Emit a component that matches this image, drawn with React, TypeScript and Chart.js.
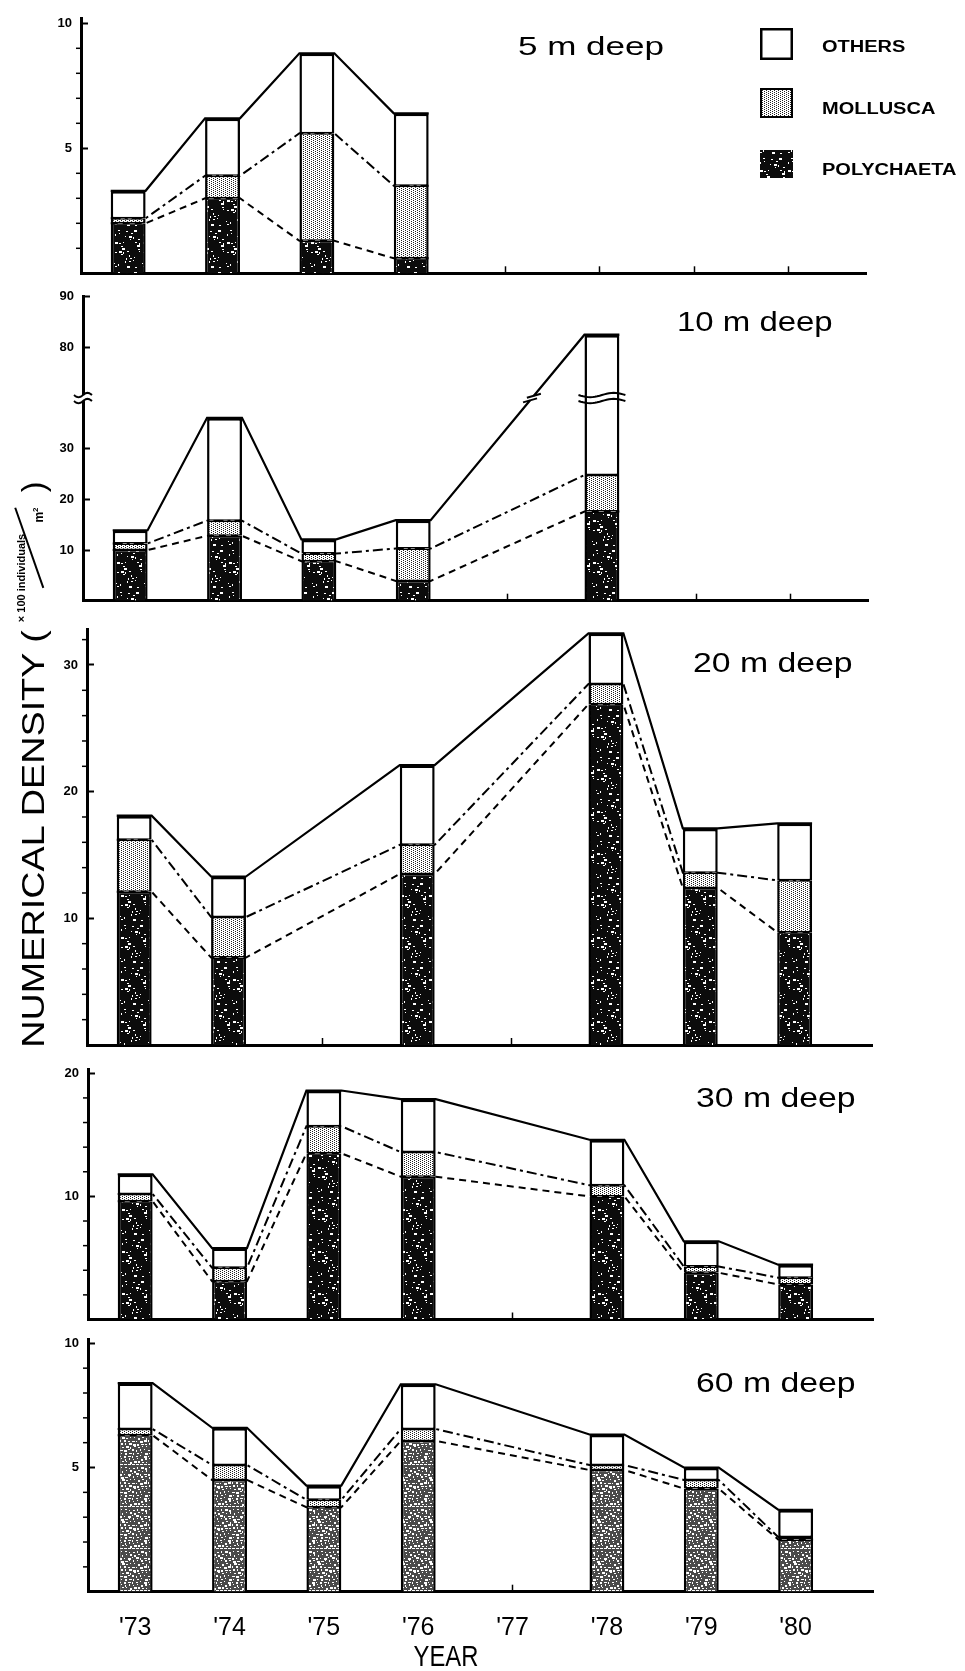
import React, { useEffect, useRef } from 'react';
import { Chart, registerables, LinearScale } from 'chart.js';

// ---------------- data ----------------
const YEAR_LABELS = ["'73", "'74", "'75", "'76", "'77", "'78", "'79", "'80"];
const LEGEND_LABELS = ['OTHERS', 'MOLLUSCA', 'POLYCHAETA'];
const PANEL_TITLES = ['5 m deep', '10 m deep', '20 m deep', '30 m deep', '60 m deep'];

const YEARS_5M = ["'73", "'74", "'75", "'76"];
const POLY_5M = [2.0, 3.0, 1.3, 0.6];
const MOLL_5M = [0.2, 0.9, 4.3, 2.9];
const OTH_5M = [1.1, 2.3, 3.2, 2.9];
const TICKS_5M = [5, 10];

const YEARS_10M = ["'73", "'74", "'75", "'76", "'78"];
const POLY_10M = [10.0, 12.8, 7.8, 3.9, 17.6];
const MOLL_10M = [1.3, 3.0, 1.5, 6.4, 7.2];
const OTH_10M = [2.6, 20.3, 2.8, 5.6, 57.7];
const TICKS_10M = [10, 20, 30, 80, 90];
const BREAK_10M = [40, 70];

const YEARS_20M = ["'73", "'74", "'76", "'78", "'79", "'80"];
const POLY_20M = [12.1, 6.9, 13.5, 26.9, 12.4, 8.9];
const MOLL_20M = [4.1, 3.2, 2.3, 1.6, 1.2, 4.1];
const OTH_20M = [1.9, 3.2, 6.3, 4.0, 3.5, 4.5];
const TICKS_20M = [10, 20, 30];

const YEARS_30M = ["'73", "'74", "'75", "'76", "'78", "'79", "'80"];
const POLY_30M = [9.6, 3.1, 13.5, 11.6, 10.0, 3.8, 2.85];
const MOLL_30M = [0.6, 1.1, 2.2, 2.0, 0.9, 0.5, 0.55];
const OTH_30M = [1.6, 1.6, 2.9, 4.3, 3.7, 2.05, 1.05];
const TICKS_30M = [10, 20];

const YEARS_60M = ["'73", "'74", "'75", "'76", "'78", "'79", "'80"];
const POLY_60M = [6.3, 4.5, 3.4, 6.07, 4.9, 4.15, 2.1];
const MOLL_60M = [0.25, 0.6, 0.3, 0.48, 0.2, 0.35, 0.1];
const OTH_60M = [1.85, 1.5, 0.57, 1.8, 1.23, 0.5, 1.1];
const TICKS_60M = [5, 10];

// ---------------- layout / style ----------------
const PAGE_W = 965;
const PAGE_H = 1671;
const Y_AXIS_W = 88;
const PAD_RIGHT = 92;
const X_MIN = -0.5;
const X_MAX = 7.82;
const BAR_FRAC = 0.37;
const HALF_BAR = BAR_FRAC / 2;
const SANS = "'Liberation Sans', Arial, sans-serif";

const compress = (v: number) => {
  const [lo, hi] = BREAK_10M;
  if (v <= lo) return v;
  if (v >= hi) return v - (hi - lo);
  return lo;
};
const expand = (c: number) => {
  const [lo, hi] = BREAK_10M;
  return c <= lo ? c : c + (hi - lo);
};

class BrokenLinearScale extends LinearScale {
  static id = 'brokenLinear';
  configure() {
    super.configure();
    const self: any = this;
    self._cStart = compress(self.min);
    self._cRange = compress(self.max) - self._cStart || 1;
  }
  getPixelForValue(value: any) {
    const self: any = this;
    if (value === null || value === undefined || isNaN(value)) return NaN;
    return this.getPixelForDecimal((compress(value) - self._cStart) / self._cRange);
  }
  getValueForPixel(pixel: number) {
    const self: any = this;
    return expand(self._cStart + this.getDecimalForPixel(pixel) * self._cRange);
  }
}

Chart.register(...registerables, BrokenLinearScale as any);

function speckleTile(holes: number, ink: string): HTMLCanvasElement {
  const c = document.createElement('canvas');
  c.width = 28;
  c.height = 42;
  const g = c.getContext('2d')!;
  g.fillStyle = ink;
  g.fillRect(0, 0, 28, 42);
  g.fillStyle = '#fff';
  for (let row = 0; row < 14; row++) {
    for (let col = 0; col < 7; col++) {
      const h = (row * 7 + col * 11 + row * col * 5) % 13;
      if (h < holes) {
        g.fillRect(col * 4 + (row % 3), row * 3 + (h % 2), 1 + (h % 3), 1 + ((h >> 1) % 2));
      }
    }
  }
  return c;
}

function stippleTile(): HTMLCanvasElement {
  const c = document.createElement('canvas');
  c.width = 4;
  c.height = 4;
  const g = c.getContext('2d')!;
  g.fillStyle = '#fff';
  g.fillRect(0, 0, 4, 4);
  g.fillStyle = '#222';
  g.fillRect(0, 0, 1, 1);
  g.fillRect(2, 1, 1, 1);
  g.fillRect(0, 2, 1, 1);
  g.fillRect(2, 3, 1, 1);
  return c;
}

type Panel = {
  years: string[];
  poly: number[];
  moll: number[];
  oth: number[];
  ticks: number[];
  yMax: number;
  minor: number;
  broken: boolean;
  top: number;
  bottom: number;
  dx: number;
  light: boolean;
  showX: boolean;
};

const PANELS: Panel[] = [
  { years: YEARS_5M, poly: POLY_5M, moll: MOLL_5M, oth: OTH_5M, ticks: TICKS_5M, yMax: 10.2, minor: 1, broken: false, top: 18.3, bottom: 273.3, dx: -7, light: false, showX: false },
  { years: YEARS_10M, poly: POLY_10M, moll: MOLL_10M, oth: OTH_10M, ticks: TICKS_10M, yMax: 90, minor: 0, broken: true, top: 296.7, bottom: 600.7, dx: -5, light: false, showX: false },
  { years: YEARS_20M, poly: POLY_20M, moll: MOLL_20M, oth: OTH_20M, ticks: TICKS_20M, yMax: 32.8, minor: 2, broken: false, top: 629.5, bottom: 1045, dx: -1, light: false, showX: false },
  { years: YEARS_30M, poly: POLY_30M, moll: MOLL_30M, oth: OTH_30M, ticks: TICKS_30M, yMax: 20.3, minor: 2, broken: false, top: 1069.6, bottom: 1319.5, dx: 0, light: false, showX: false },
  { years: YEARS_60M, poly: POLY_60M, moll: MOLL_60M, oth: OTH_60M, ticks: TICKS_60M, yMax: 10.15, minor: 1, broken: false, top: 1339.6, bottom: 1591.7, dx: 0, light: true, showX: true },
];

function geom(p: Panel) {
  const canvasTop = Math.floor(p.top) - 10;
  const padTop = p.top - canvasTop;
  const canvasBottom = p.showX ? PAGE_H : Math.ceil(p.bottom) + 8;
  const canvasH = canvasBottom - canvasTop;
  const xAxisH = canvasBottom - p.bottom;
  return { canvasTop, padTop, canvasH, xAxisH };
}

const TITLE_POS = [
  { left: 518, cy: 44.5, size: 25, sx: 1.4 },
  { left: 677, cy: 320, size: 27, sx: 1.22 },
  { left: 693, cy: 661, size: 27, sx: 1.25 },
  { left: 696, cy: 1096, size: 27, sx: 1.25 },
  { left: 696, cy: 1381, size: 27, sx: 1.25 },
];
const LEGEND_CY = [46, 107.5, 169];

function wave(ctx: CanvasRenderingContext2D, x0: number, x1: number, y: number) {
  ctx.beginPath();
  const steps = 20;
  for (let i = 0; i <= steps; i++) {
    const x = x0 + ((x1 - x0) * i) / steps;
    const yy = y + 2.2 * Math.sin((i / steps) * Math.PI * 2);
    if (i === 0) ctx.moveTo(x, yy);
    else ctx.lineTo(x, yy);
  }
  ctx.stroke();
}

const minorTickPlugin = {
  id: 'minorTicks',
  afterDraw(chart: any, _a: any, opts: any) {
    if (!opts || !opts.step) return;
    const s = chart.scales.y;
    const ctx = chart.ctx;
    const x = chart.chartArea.left;
    ctx.save();
    ctx.strokeStyle = '#000';
    ctx.lineWidth = 1.5;
    for (let k = 1; k * opts.step < s.max; k++) {
      const v = k * opts.step;
      if (opts.major.includes(v)) continue;
      const y = s.getPixelForValue(v);
      ctx.beginPath();
      ctx.moveTo(x - 5, y);
      ctx.lineTo(x - 1, y);
      ctx.stroke();
    }
    ctx.restore();
  },
};

const breakPlugin = {
  id: 'scaleBreak',
  afterDatasetsDraw(chart: any, _a: any, opts: any) {
    if (!opts || opts.at === undefined) return;
    const ys = chart.scales.y;
    const ctx = chart.ctx as CanvasRenderingContext2D;
    const yb = ys.getPixelForValue(opts.at);
    const left = chart.chartArea.left;
    ctx.save();
    ctx.fillStyle = '#fff';
    ctx.strokeStyle = '#000';
    ctx.lineWidth = 2;
    ctx.fillRect(left - 3, yb - 3, 6, 6);
    wave(ctx, left - 9, left + 9, yb - 3);
    wave(ctx, left - 9, left + 9, yb + 3);
    const meta = chart.getDatasetMeta(opts.barDataset);
    meta.data.forEach((el: any) => {
      const { x, y, base, width } = el.getProps(['x', 'y', 'base', 'width'], true);
      if (y < yb - 5 && base > yb + 5) {
        ctx.fillStyle = '#fff';
        ctx.fillRect(x - width / 2 + 2.5, yb - 3, width - 5, 6);
        wave(ctx, x - width / 2 - 6, x + width / 2 + 6, yb - 3);
        wave(ctx, x - width / 2 - 6, x + width / 2 + 6, yb + 3);
      }
    });
    const lm = chart.getDatasetMeta(opts.lineDataset);
    for (let i = 1; i < lm.data.length; i++) {
      const a = lm.data[i - 1];
      const b = lm.data[i];
      if ((a.y - yb) * (b.y - yb) < 0 && Math.abs(b.x - a.x) > 2) {
        const t = (yb - a.y) / (b.y - a.y);
        const cx = a.x + t * (b.x - a.x);
        const cy = yb;
        const L = Math.hypot(b.x - a.x, b.y - a.y);
        const ux = (b.x - a.x) / L;
        const uy = (b.y - a.y) / L;
        ctx.strokeStyle = '#fff';
        ctx.lineWidth = 5;
        ctx.beginPath();
        ctx.moveTo(cx - 3 * ux, cy - 3 * uy);
        ctx.lineTo(cx + 3 * ux, cy + 3 * uy);
        ctx.stroke();
        ctx.strokeStyle = '#000';
        ctx.lineWidth = 2;
        for (const s of [-3, 3]) {
          const px = cx + s * ux;
          const py = cy + s * uy;
          ctx.beginPath();
          ctx.moveTo(px - 7, py + 2);
          ctx.lineTo(px + 7, py - 2);
          ctx.stroke();
        }
      }
    }
    ctx.restore();
  },
};

function makeChart(canvas: HTMLCanvasElement, p: Panel) {
  const ctx = canvas.getContext('2d')!;
  const g = geom(p);
  const polyPat = ctx.createPattern(p.light ? speckleTile(13, '#4a4a4a') : speckleTile(5, '#0c0c0c'), 'repeat');
  const mollPat = ctx.createPattern(stippleTile(), 'repeat');
  const xs = p.years.map((y) => YEAR_LABELS.indexOf(y));
  const polyTop = p.poly;
  const mollTop = p.poly.map((v, i) => v + p.moll[i]);
  const total = mollTop.map((v, i) => v + p.oth[i]);
  const zeros = xs.map(() => 0);
  const barData = (lo: number[], hi: number[]) => xs.map((x, i) => ({ x, y: [lo[i], hi[i]] }));
  const edgePts = (vals: number[]) =>
    xs.flatMap((x, i) => [
      { x: x - HALF_BAR, y: vals[i] },
      { x: x + HALF_BAR, y: vals[i] },
    ]);
  const barCommon: any = {
    type: 'bar',
    grouped: false,
    barPercentage: BAR_FRAC,
    categoryPercentage: 1,
    borderColor: '#000',
    borderSkipped: false,
    order: 1,
  };
  const lineCommon: any = {
    type: 'line',
    borderColor: '#000',
    borderWidth: 2,
    pointRadius: 0,
    fill: false,
    tension: 0,
    order: 10,
  };
  const plugins: any[] = [minorTickPlugin];
  if (p.broken) plugins.push(breakPlugin);

  return new Chart(canvas, {
    type: 'bar',
    data: {
      datasets: [
        { ...barCommon, label: LEGEND_LABELS[2], data: barData(zeros, polyTop), backgroundColor: polyPat, borderWidth: { top: 1.5, left: 2.5, right: 2.5, bottom: 0 } },
        { ...barCommon, label: LEGEND_LABELS[1], data: barData(polyTop, mollTop), backgroundColor: mollPat, borderWidth: { top: 1.5, left: 2.5, right: 2.5, bottom: 1.5 } },
        { ...barCommon, label: LEGEND_LABELS[0], data: barData(mollTop, total), backgroundColor: '#fff', borderWidth: { top: 3, left: 2.5, right: 2.5, bottom: 1.5 } },
        { ...lineCommon, label: 'total', data: edgePts(total), borderWidth: 2.2 },
        { ...lineCommon, label: 'polychaeta + mollusca', data: edgePts(mollTop), borderDash: [10, 4, 3, 4] },
        { ...lineCommon, label: 'polychaeta', data: edgePts(polyTop), borderDash: [7, 5] },
      ] as any,
    },
    plugins,
    options: {
      responsive: false,
      animation: false,
      events: [],
      layout: { padding: { top: g.padTop, left: 0, right: PAD_RIGHT, bottom: 0 } },
      plugins: {
        legend: { display: false },
        tooltip: { enabled: false },
        title: { display: false },
        minorTicks: { step: p.minor, major: p.ticks },
        scaleBreak: p.broken ? { at: BREAK_10M[0], barDataset: 2, lineDataset: 3 } : {},
      } as any,
      scales: {
        x: {
          type: 'linear',
          min: X_MIN,
          max: X_MAX,
          offset: false,
          afterBuildTicks: (s: any) => {
            s.ticks = YEAR_LABELS.map((_, i) => ({ value: i }));
          },
          afterFit: (s: any) => {
            s.height = g.xAxisH;
            s.paddingLeft = 0;
            s.paddingRight = 0;
          },
          grid: { offset: false, drawOnChartArea: false, drawTicks: true, tickLength: -7, tickWidth: 1.5, tickColor: '#000' },
          border: { display: true, color: '#000', width: 3 },
          ticks: {
            display: p.showX,
            autoSkip: false,
            maxRotation: 0,
            padding: 28,
            color: '#000',
            font: { family: SANS, size: 25 },
            callback: (v: any) => YEAR_LABELS[v] ?? '',
          },
        },
        y: {
          type: p.broken ? 'brokenLinear' : 'linear',
          min: 0,
          max: p.yMax,
          afterBuildTicks: (s: any) => {
            s.ticks = p.ticks.map((v) => ({ value: v }));
          },
          afterFit: (s: any) => {
            s.width = Y_AXIS_W;
            s.paddingTop = 0;
            s.paddingBottom = 0;
          },
          grid: { drawOnChartArea: false, drawTicks: true, tickLength: -7, tickWidth: 2, tickColor: '#000' },
          border: { display: true, color: '#000', width: 3 },
          ticks: { padding: 16, color: '#000', font: { family: SANS, size: 13, weight: 'bold' } },
        },
      } as any,
    } as any,
  });
}

function drawLegend(c: HTMLCanvasElement) {
  const g = c.getContext('2d')!;
  const poly = g.createPattern(speckleTile(5, '#0c0c0c'), 'repeat')!;
  const moll = g.createPattern(stippleTile(), 'repeat')!;
  g.clearRect(0, 0, c.width, c.height);
  g.fillStyle = '#000';
  g.fillRect(10, 8, 33, 32);
  g.fillStyle = '#fff';
  g.fillRect(12.5, 10.5, 28, 27);
  g.fillStyle = '#000';
  g.fillRect(10, 68, 33, 30);
  g.fillStyle = moll;
  g.fillRect(12, 70, 29, 26);
  g.fillStyle = poly;
  g.fillRect(10, 130, 33, 28);
}

export default function App() {
  const canvasRefs = useRef<(HTMLCanvasElement | null)[]>([]);
  const legendRef = useRef<HTMLCanvasElement | null>(null);

  useEffect(() => {
    const charts = PANELS.map((p, i) => makeChart(canvasRefs.current[i]!, p));
    if (legendRef.current) drawLegend(legendRef.current);
    return () => charts.forEach((c) => c.destroy());
  }, []);

  const abs: React.CSSProperties = { position: 'absolute', whiteSpace: 'nowrap', lineHeight: 1, color: '#000' };

  return (
    <div style={{ position: 'absolute', left: 0, top: 0, width: PAGE_W, height: PAGE_H, background: '#fff', overflow: 'hidden' }}>
      {PANELS.map((p, i) => {
        const g = geom(p);
        return (
          <canvas
            key={i}
            ref={(el) => {
              canvasRefs.current[i] = el;
            }}
            width={PAGE_W}
            height={g.canvasH}
            style={{ position: 'absolute', left: p.dx, top: g.canvasTop, width: PAGE_W, height: g.canvasH }}
          />
        );
      })}
      <canvas ref={legendRef} width={60} height={170} style={{ position: 'absolute', left: 750, top: 20, width: 60, height: 170 }} />
      {LEGEND_LABELS.map((t, i) => (
        <div key={t} style={{ ...abs, left: 822, top: LEGEND_CY[i] - 7.8, font: `bold 16px ${SANS}`, transform: 'scaleX(1.25)', transformOrigin: 'left center' }}>
          {t}
        </div>
      ))}
      {PANEL_TITLES.map((t, i) => {
        const tp = TITLE_POS[i];
        return (
          <div key={t} style={{ ...abs, left: tp.left, top: tp.cy - 0.488 * tp.size, font: `${tp.size}px ${SANS}`, transform: `scaleX(${tp.sx})`, transformOrigin: 'left center' }}>
            {t}
          </div>
        );
      })}
      <div style={{ ...abs, left: 446, top: 1656, font: `29px ${SANS}`, transform: 'translate(-50%, -50%) scaleX(0.82)' }}>YEAR</div>
      <div style={{ ...abs, left: 33, top: 839, font: `32px ${SANS}`, transform: 'translate(-50%, -50%) rotate(-90deg) scaleX(1.18)' }}>
        NUMERICAL DENSITY (
      </div>
      <div style={{ ...abs, left: 21, top: 578, font: `bold 11px ${SANS}`, transform: 'translate(-50%, -50%) rotate(-90deg)' }}>× 100 individuals</div>
      <div style={{ position: 'absolute', left: 29 - 42.5, top: 548 - 0.75, width: 85, height: 1.5, background: '#000', transform: 'rotate(70.7deg)' }} />
      <div style={{ ...abs, left: 38, top: 515, font: `bold 12px ${SANS}`, transform: 'translate(-50%, -50%) rotate(-90deg)' }}>
        m<sup style={{ fontSize: 8 }}>2</sup>
      </div>
      <div style={{ ...abs, left: 33, top: 487, font: `32px ${SANS}`, transform: 'translate(-50%, -50%) rotate(-90deg)' }}>)</div>
    </div>
  );
}
